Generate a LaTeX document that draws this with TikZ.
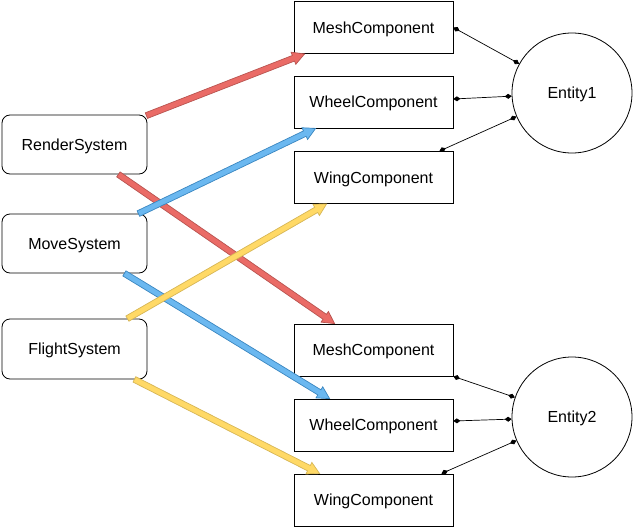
\documentclass[tikz,border=0pt]{standalone}
\usepackage{fontspec}
\setmainfont{Liberation Sans}
\usetikzlibrary{calc,arrows.meta}
\definecolor{redfill}{HTML}{EA6B66}
\definecolor{redline}{HTML}{B85450}
\definecolor{bluefill}{HTML}{6BB8F0}
\definecolor{blueline}{HTML}{3A86C0}
\definecolor{yelfill}{HTML}{FFD966}
\definecolor{yelline}{HTML}{D6B656}
\newcommand{\flexarr}[4]{%
  \coordinate (fh) at ($(#4)!12pt!(#3)$);
  \filldraw[fill=#1, draw=#2, line width=0.7pt, line join=miter]
    ($(#3)!3pt!90:(#4)$) -- ($(fh)!3pt!90:(#4)$) -- ($(fh)!6.5pt!90:(#4)$) --
    (#4) -- ($(fh)!6.5pt!-90:(#4)$) -- ($(fh)!3pt!-90:(#4)$) --
    ($(#3)!3pt!-90:(#4)$) -- cycle;
}
\begin{document}
\begin{tikzpicture}[x=1pt,y=-1pt,
  txt/.style={font=\fontsize{16}{19}\selectfont, text depth=0pt},
  sysbox/.style={txt, draw=black, line width=0.8pt, rounded corners=8pt, fill=white,
    minimum width=145pt, minimum height=59pt, inner sep=0pt},
  compbox/.style={txt, draw=black, line width=0.8pt, fill=white,
    minimum width=159pt, minimum height=52pt, inner sep=0pt},
  entity/.style={txt, draw=black, line width=0.8pt, circle, minimum size=120pt, inner sep=0pt},
  link/.style={draw=black, line width=0.7pt, {Diamond[length=7pt,width=5pt]}-{Diamond[length=7pt,width=5pt]}}
]
\useasboundingbox (0,0) rectangle (634,527);

\node[sysbox] (render) at (74.5,144.5) {RenderSystem};
\node[sysbox] (move) at (74.5,243.5) {MoveSystem};
\node[sysbox, minimum height=60pt] (flight) at (74.5,349) {FlightSystem};

\node[compbox] (mesh1) at (373.5,27.5) {MeshComponent};
\node[compbox] (wheel1) at (373.5,102) {WheelComponent};
\node[compbox] (wing1) at (373.5,177.5) {WingComponent};
\node[compbox] (mesh2) at (373.5,350) {MeshComponent};
\node[compbox] (wheel2) at (373.5,425) {WheelComponent};
\node[compbox] (wing2) at (373.5,500) {WingComponent};

\node[entity] (e1) at (572,93) {Entity1};
\node[entity] (e2) at (572,417) {Entity2};

% arrow end points
\coordinate (r1s) at ($(render.north east)+(-1,1)$);
\coordinate (r1e) at ($(mesh1.south west)+(11,0)$);
\coordinate (r2s) at ($(render.south east)+(-29,0)$);
\coordinate (r2e) at ($(mesh2.north west)+(41,0)$);
\coordinate (m1s) at ($(move.north east)+(-9,0)$);
\coordinate (m1e) at ($(wheel1.south west)+(22,0)$);
\coordinate (m2s) at ($(move.south east)+(-23,0)$);
\coordinate (m2e) at ($(wheel2.north west)+(36,0)$);
\coordinate (f1s) at ($(flight.north east)+(-20,0)$);
\coordinate (f1e) at ($(wing1.south west)+(33,0)$);
\coordinate (f2s) at ($(flight.south east)+(-13,0)$);
\coordinate (f2e) at ($(wing2.north west)+(26,0)$);

\flexarr{redfill}{redline}{r1s}{r1e}
\flexarr{redfill}{redline}{r2s}{r2e}
\flexarr{bluefill}{blueline}{m1s}{m1e}
\flexarr{bluefill}{blueline}{m2s}{m2e}
\flexarr{yelfill}{yelline}{f1s}{f1e}
\flexarr{yelfill}{yelline}{f2s}{f2e}

% entity links
\draw[link] (mesh1.east) -- (e1.151);
\draw[link] ($(wheel1.east)+(0,-3)$) -- (e1.183);
\draw[link] ($(wing1.north east)+(-14,0)$) -- (e1.203);
\draw[link] (mesh2.south east) -- (e2.161);
\draw[link] ($(wheel2.east)+(0,-4)$) -- (e2.182);
\draw[link] ($(wing2.north east)+(-12,0)$) -- (e2.203);
\end{tikzpicture}
\end{document}
